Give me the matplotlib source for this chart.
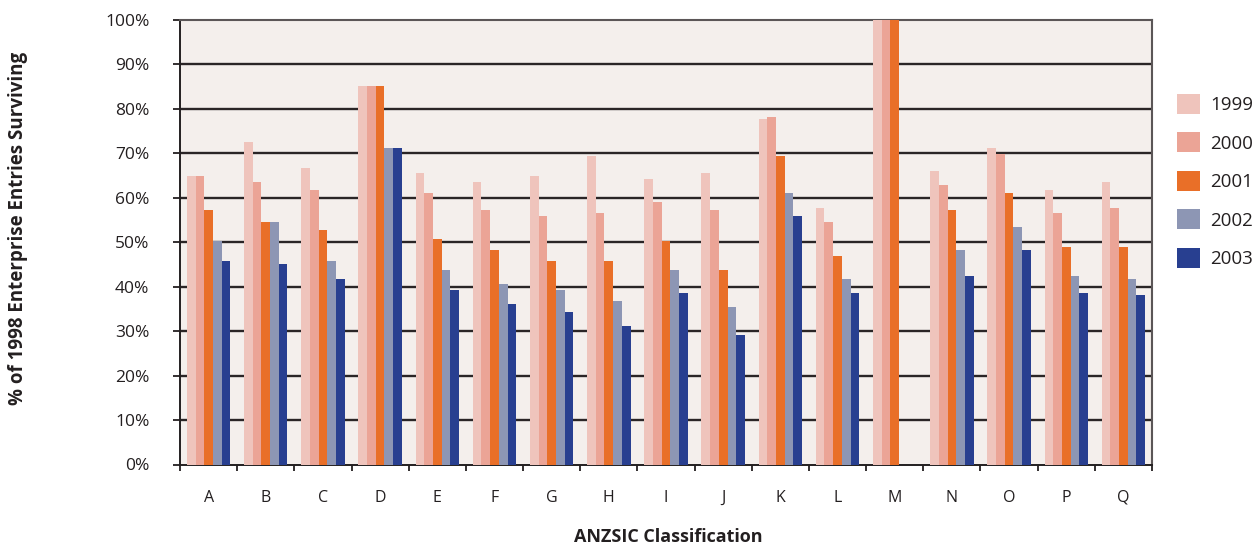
"""Survival of 1998 enterprise entries by ANZSIC division, 1999-2003."""

import matplotlib.pyplot as plt
import numpy as np
from matplotlib.patches import Patch

plt.rcParams["font.family"] = ["Open Sans", "DejaVu Sans"]

divisions = ["A", "B", "C", "D", "E", "F", "G", "H", "I",
             "J", "K", "L", "M", "N", "O", "P", "Q"]
years = ["1999", "2000", "2001", "2002", "2003"]

surv_1999 = [65.0, 72.5, 66.7, 85.1, 65.6, 63.5, 65.0, 69.4, 64.2,
             65.6, 77.7, 57.7, 100.0, 66.0, 71.2, 61.7, 63.5]
surv_2000 = [65.0, 63.5, 61.7, 85.1, 61.1, 57.2, 55.9, 56.6, 59.0,
             57.2, 78.2, 54.5, 100.0, 62.9, 69.9, 56.6, 57.7]
surv_2001 = [57.2, 54.5, 52.8, 85.1, 50.7, 48.3, 45.8, 45.8, 50.3,
             43.7, 69.4, 46.9, 100.0, 57.2, 61.1, 48.9, 48.9]
surv_2002 = [50.3, 54.5, 45.8, 71.2, 43.7, 40.6, 39.2, 36.8, 43.7,
             35.4, 61.1, 41.7, 0.0, 48.3, 53.4, 42.4, 41.7]
surv_2003 = [45.8, 45.1, 41.7, 71.2, 39.2, 36.1, 34.3, 31.2, 38.5,
             29.1, 55.9, 38.5, 0.0, 42.4, 48.3, 38.5, 38.1]

series = [surv_1999, surv_2000, surv_2001, surv_2002, surv_2003]
colors = ["#EFC4BC", "#EBA496", "#E96F28", "#8D96B4", "#283F90"]

fig = plt.figure(figsize=(12.6, 5.46), dpi=100)
ax = fig.add_axes([180 / 1260, 1 - 464.5 / 546, 972 / 1260, 444.5 / 546])
ax.set_facecolor("#F4EFEC")

x = np.arange(len(divisions))
width = 0.152
for i, (vals, col) in enumerate(zip(series, colors)):
    offset = (i - 2) * width
    ax.bar(x + offset, vals, width=width, color=col, zorder=3, linewidth=0)

ax.set_xlim(-0.5, len(divisions) - 0.5)
ax.set_ylim(0, 100)

# horizontal rules behind the bars
for level in range(10, 100, 10):
    ax.axhline(level, color="#2A2526", lw=1.7, zorder=1)

ax.set_yticks(np.arange(0, 101, 10))
ax.set_yticklabels([f"{v}%" for v in range(0, 101, 10)], fontsize=12.5,
                   color="#231F20")
ax.tick_params(axis="y", length=5, width=1.3, color="#231F20", pad=17)

# division labels centred, ticks on the group boundaries
ax.set_xticks(x)
ax.set_xticklabels(divisions, fontsize=11.5, color="#231F20")
ax.set_xticks(np.arange(-0.5, len(divisions), 1), minor=True)
ax.tick_params(axis="x", which="major", length=0, pad=18)
ax.tick_params(axis="x", which="minor", length=4, width=1.3,
               color="#231F20", direction="out")

for side in ["left", "bottom"]:
    ax.spines[side].set_color("#231F20")
    ax.spines[side].set_linewidth(1.4)
for side in ["top", "right"]:
    ax.spines[side].set_color("#5B5657")
    ax.spines[side].set_linewidth(1.5)

fig.text(18 / 1260, 1 - 228 / 546, "% of 1998 Enterprise Entries Surviving",
         rotation=90, ha="center", va="center", fontsize=13.5,
         fontweight="bold", color="#231F20")
fig.text(668 / 1260, 1 - 537 / 546, "ANZSIC Classification",
         ha="center", va="center", fontsize=13, fontweight="bold",
         color="#231F20")

handles = [Patch(facecolor=c, edgecolor="none") for c in colors]
fig.legend(handles, years, loc="upper left",
           bbox_to_anchor=(1177 / 1260, 1 - 94 / 546),
           frameon=False, fontsize=13.5, borderpad=0, borderaxespad=0,
           handlelength=1.23, handleheight=1.23, handletextpad=0.55,
           labelspacing=0.98, labelcolor="#231F20")

fig.savefig("out.png", dpi=100)
